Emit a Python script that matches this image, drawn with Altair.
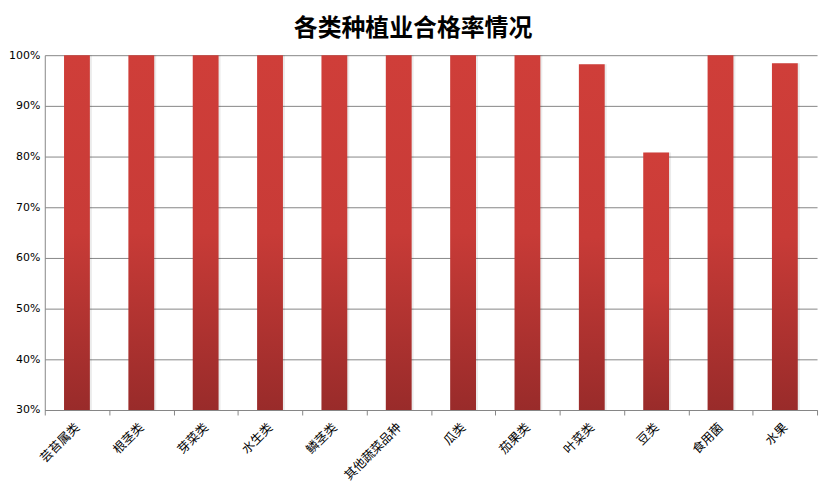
import altair as alt
import pandas as pd

categories = ["芸苔属类", "根茎类", "芽菜类", "水生类", "鳞茎类", "其他蔬菜品种",
              "瓜类", "茄果类", "叶菜类", "豆类", "食用菌", "水果"]
rates = [1.0, 1.0, 1.0, 1.0, 1.0, 1.0, 1.0, 1.0, 0.982, 0.808, 1.0, 0.984]

df = pd.DataFrame({"类别": categories, "合格率": rates})

grad = alt.Gradient(
    gradient="linear",
    stops=[alt.GradientStop(color="#cf3e39", offset=0),
           alt.GradientStop(color="#c83b37", offset=0.5),
           alt.GradientStop(color="#992b2a", offset=1)],
    x1=0, x2=0, y1=0, y2=1,
)

font = "Noto Sans CJK SC"

x_enc = alt.X("类别:N", sort=categories, title=None,
              scale=alt.Scale(paddingInner=0, paddingOuter=0),
              axis=alt.Axis(labelAngle=-45, labelAlign="right", labelBaseline="middle",
                            labelFont=font, labelFontSize=12.5, labelColor="#000000",
                            tickBand="extent", tickColor="#868686", tickSize=5,
                            domainColor="#868686", labelPadding=10))
y_enc = alt.Y("合格率:Q", title=None,
              scale=alt.Scale(domain=[0.3, 1.0], zero=False, clamp=True, nice=False),
              axis=alt.Axis(format=".0%", values=[0.3, 0.4, 0.5, 0.6, 0.7, 0.8, 0.9, 1.0],
                            labelFont="DejaVu Sans", labelFontSize=11, labelColor="#000000",
                            gridColor="#868686", ticks=False,
                            domainColor="#868686", labelPadding=5))

shadow = alt.Chart(df).mark_bar(size=26, color="#000000", opacity=0.08, xOffset=2).encode(
    x=x_enc, y=y_enc, y2=alt.datum(0.3))
bars = alt.Chart(df).mark_bar(size=26, color=grad).encode(
    x=x_enc, y=y_enc, y2=alt.datum(0.3))

chart = (shadow + bars).properties(
    width=777, height=357,
    padding={"left": 0, "top": 8, "right": 5, "bottom": 5},
    title=alt.TitleParams("各类种植业合格率情况", font=font, fontSize=24, fontWeight="bold",
                          color="#000000", anchor="middle", frame="bounds", offset=8),
).configure_view(stroke=None).configure_axisX(grid=False)

chart.save("out.html", embed_options={"renderer": "svg", "actions": False})
